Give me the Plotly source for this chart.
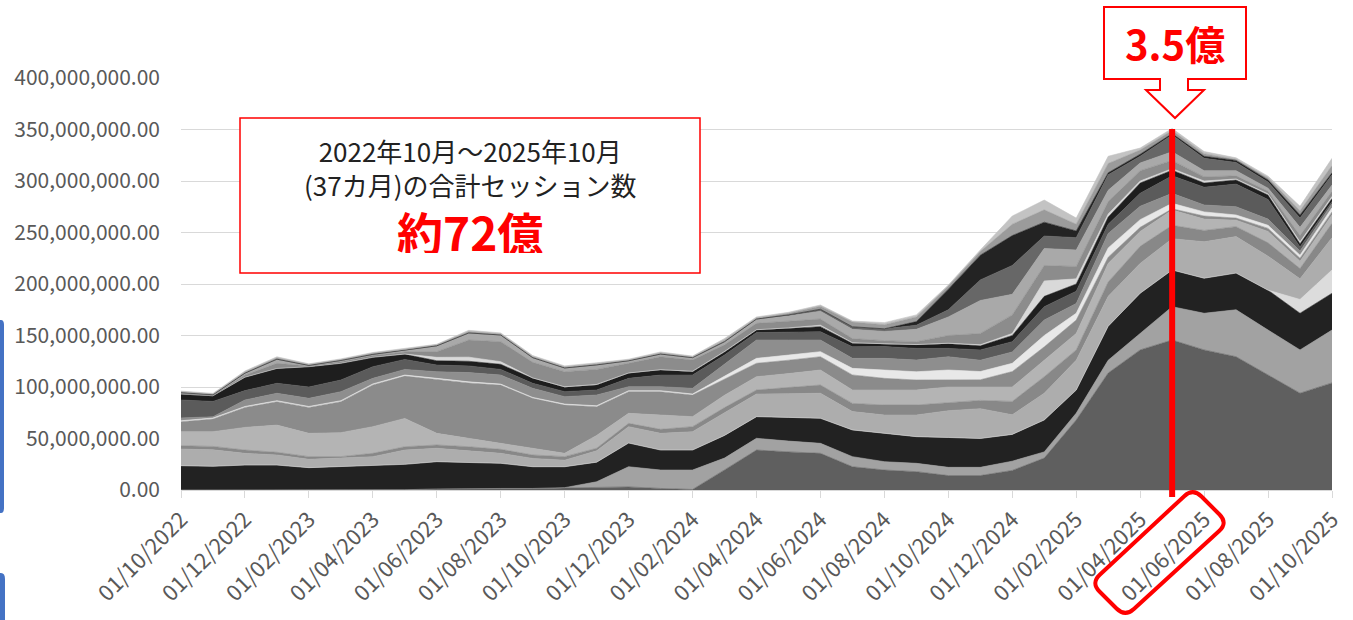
import plotly.graph_objects as go

# ---------------- data (values in millions of sessions) ----------------
UNIT = 1_000_000

months = [
    "01/10/2022", "01/11/2022", "01/12/2022", "01/01/2023", "01/02/2023", "01/03/2023",
    "01/04/2023", "01/05/2023", "01/06/2023", "01/07/2023", "01/08/2023", "01/09/2023",
    "01/10/2023", "01/11/2023", "01/12/2023", "01/01/2024", "01/02/2024", "01/03/2024",
    "01/04/2024", "01/05/2024", "01/06/2024", "01/07/2024", "01/08/2024", "01/09/2024",
    "01/10/2024", "01/11/2024", "01/12/2024", "01/01/2025", "01/02/2025", "01/03/2025",
    "01/04/2025", "01/05/2025", "01/06/2025", "01/07/2025", "01/08/2025", "01/09/2025",
    "01/10/2025",
]
tick_labels = [
    "01/10/2022", "01/12/2022", "01/02/2023", "01/04/2023", "01/06/2023", "01/08/2023",
    "01/10/2023", "01/12/2023", "01/02/2024", "01/04/2024", "01/06/2024", "01/08/2024",
    "01/10/2024", "01/12/2024", "01/02/2025", "01/04/2025", "01/06/2025", "01/08/2025",
    "01/10/2025",
]
peak_month = "01/05/2025"

# cumulative level (top edge) of each stacked layer
lvl_a = [0, 0, 0, 0, 0, 0, 0, 0.3, 1, 1.5, 1.5, 1.5, 2, 2, 3, 1.5, 0.5, 19.5, 38.8, 37, 35.6, 22.6, 19.4, 17.8, 14, 14, 19, 31, 68, 113.6, 136, 145.6, 136, 129.4, 111.6, 94, 104]
lvl_b = [0, 0, 0, 0, 0, 0, 0, 0.3, 1, 1.5, 1.5, 1.5, 2.3, 8, 22.6, 19.4, 19.4, 31, 50.2, 47.5, 45.3, 32.4, 27.5, 25.9, 22, 22, 28, 37, 74.6, 126, 152.4, 178, 171.6, 175, 155.3, 136, 155.3]
lvl_c = [23.6, 23, 24.2, 24.2, 21.7, 23, 24.2, 24.9, 27.5, 27, 25.9, 22.6, 22.6, 27, 45.6, 38.8, 38.8, 53, 71.2, 70.5, 69.6, 58.3, 55, 51.8, 51, 50, 54, 68, 97, 159, 191, 213.6, 205.6, 210.6, 194, 171.6, 191]
lvl_c2 = [23.6, 23, 24.2, 24.2, 21.7, 23, 24.2, 24.9, 27.5, 27, 25.9, 22.6, 22.6, 27, 45.6, 38.8, 38.8, 53, 71.2, 70.5, 69.6, 58.3, 55, 51.8, 51, 50, 54, 68, 97, 159, 191, 213.6, 205.6, 210.6, 194, 185, 213.6]
lvl_d = [39.8, 39, 35.6, 34, 29.8, 31, 32.4, 38.8, 40.5, 38, 35.6, 30.7, 29, 38, 61.5, 55, 56.6, 75, 93.2, 93.5, 93.9, 76.1, 72.8, 72.8, 77, 79, 73, 94, 126, 188, 220, 244, 241, 246, 227, 205, 245]
lvl_e = [43, 42.3, 38.8, 36.6, 32.4, 32.4, 35.6, 42, 43.7, 42, 39.5, 34, 32.4, 40.5, 64.7, 58.9, 61.5, 80, 97.1, 99.5, 101.9, 84.1, 82.5, 82.5, 85, 87, 86, 110, 136, 202, 236.6, 257, 252, 255.7, 240, 215, 259]
lvl_f = [56.6, 56.6, 60.8, 63, 55, 55.7, 61.5, 69.5, 55, 50, 45.3, 40.5, 35.6, 53, 74.4, 72.8, 71.2, 92, 110, 113, 116.5, 97.1, 97.1, 97.1, 100, 100, 100, 126, 152, 220, 251, 271.8, 263, 262, 251, 222, 267]
lvl_g = [66.3, 69, 80.2, 85.8, 80.2, 85.8, 102, 110.6, 107.4, 104, 101.9, 89, 82.5, 80.9, 95.5, 95.5, 92.2, 108, 123, 126, 129.4, 111.7, 108.4, 106.8, 106.8, 107, 115, 139, 165, 226, 255, 273, 266, 264, 254, 225, 270]
lvl_h = [67.2, 69.9, 81.1, 86.7, 81.1, 86.7, 103, 111.6, 108.4, 105, 102.8, 89.9, 83.4, 81.8, 96.4, 96.4, 93.2, 110.5, 127.8, 131, 134.3, 118.1, 116.5, 114.8, 116.5, 115, 123, 150, 171.6, 235, 262.5, 278.3, 270, 267, 257, 228, 274]
lvl_i = [70, 71.1, 87.4, 93.9, 89, 95.5, 108.4, 117.1, 114.8, 114, 111.6, 98.7, 90.6, 92.2, 100.3, 100.3, 98.7, 122, 145.6, 145.6, 145.6, 127.8, 127.8, 126.2, 129.4, 126, 134, 165, 181, 249, 275.5, 288, 276.7, 275, 263, 232, 278]
lvl_j = [87.4, 86, 96.5, 103.6, 100, 106.8, 119.7, 126.8, 121.3, 120.5, 117.1, 103.6, 95.5, 97.1, 108.4, 111.6, 111.6, 131, 152.8, 153.3, 153.7, 139, 139.2, 137.5, 137.5, 136, 144, 178, 193, 258, 288, 305, 294, 297, 282, 236, 280]
lvl_k = [93.2, 91.5, 109.5, 118, 119.7, 123, 128.8, 131.7, 125.5, 125, 122, 108.4, 99.7, 102, 113.3, 116.5, 114.9, 134, 155.3, 157, 158.6, 142.5, 141.7, 140.8, 142, 140, 150, 188, 200, 265, 298, 310.5, 298, 301, 286.4, 239, 283]
lvl_l = [93.2, 91.5, 109.5, 118, 119.7, 123, 128.8, 132, 128.8, 129, 124.6, 108.8, 100.2, 102.5, 113.6, 116.8, 115.3, 134.5, 155.6, 157.4, 160, 143, 142, 141.2, 142.5, 141, 152, 203, 205, 268, 300, 312, 300, 302, 287.5, 241, 285]
lvl_m = [93.2, 91.5, 111.5, 123, 120.3, 124.5, 130.5, 134, 134.3, 145.6, 144, 124, 114.9, 117.1, 123, 129.4, 126.2, 141, 161.8, 164, 166, 147, 145, 144, 150, 152, 170, 218, 217, 280, 310, 320, 304, 305, 290, 247, 290]
lvl_n = [94.5, 92.5, 113.5, 127, 121, 125.8, 131.7, 135.5, 140, 152.5, 150.5, 128.5, 118.5, 121.5, 125.5, 132, 128.5, 144, 166, 169, 173.5, 156, 154, 156, 168, 184, 190, 234.5, 233, 291, 317.5, 328.4, 310, 310, 293, 255, 296]
lvl_o = [94.5, 92.5, 113.5, 127, 121, 125.8, 131.7, 135.5, 140, 152.5, 150.5, 128.5, 118.5, 121.5, 125.5, 132, 128.5, 144, 166, 170, 175.5, 158.5, 156.5, 160, 175, 204, 218, 246.6, 245, 306, 324, 344.7, 322, 318, 299, 264, 306]
lvl_p = [94.5, 92.5, 113.5, 127, 121, 125.8, 131.7, 135.5, 140, 152.5, 150.5, 128.5, 118.5, 121.5, 125.5, 132, 128.5, 144, 166, 170, 175.5, 158.5, 156.5, 163.5, 195, 228, 247, 260, 251.5, 308, 326, 346, 324, 320, 301, 267, 308]
lvl_q = [95.3, 93.2, 114.5, 128.3, 121.8, 126.6, 132.8, 136.5, 141, 153.8, 151.5, 129.5, 119.5, 122.5, 126.3, 133, 129.3, 145.5, 167, 171.5, 178.5, 163, 160.5, 168, 198, 231.5, 258, 272, 258, 317, 330, 349, 326.5, 321, 303, 271, 315]
lvl_r = [96, 93.8, 115.5, 129.3, 122.5, 127.3, 133.5, 137.5, 141.5, 155, 152.5, 130.5, 120.5, 123.5, 127, 134, 130, 147, 168, 172.5, 179.6, 164, 162.5, 170, 199, 233, 266, 281.5, 264, 324, 332, 351, 328.6, 322.5, 304.7, 275.5, 322]

layers = [
    (lvl_a, "#5f5f5f"), (lvl_b, "#a2a2a2"), (lvl_c, "#222222"), (lvl_c2, "#dcdcdc"),
    (lvl_d, "#adadad"), (lvl_e, "#888888"), (lvl_f, "#b4b4b4"), (lvl_g, "#8b8b8b"),
    (lvl_h, "#e8e8e8"), (lvl_i, "#8e8e8e"), (lvl_j, "#5b5b5b"), (lvl_k, "#1e1e1e"),
    (lvl_l, "#d9d9d9"), (lvl_m, "#8c8c8c"), (lvl_n, "#a9a9a9"), (lvl_o, "#676767"),
    (lvl_p, "#232323"), (lvl_q, "#9b9b9b"), (lvl_r, "#c3c3c3"),
]

# ---------------- layout geometry ----------------
W, H = 1353, 620
ML, MR, MT, MB = 181, 21, 78, 130
PW, PH = W - ML - MR, H - MT - MB


def fx(x):
    return (x - ML) / PW


def fy(y):
    return (H - MB - y) / PH


def path_paper(points, closed=True):
    s = "M %.5f,%.5f" % (fx(points[0][0]), fy(points[0][1]))
    for x, y in points[1:]:
        s += " L %.5f,%.5f" % (fx(x), fy(y))
    return s + (" Z" if closed else "")


def rounded_path(points, r):
    n = len(points)
    parts = []
    for k in range(n):
        x0, y0 = points[k - 1]
        x1, y1 = points[k]
        x2, y2 = points[(k + 1) % n]
        d1 = ((x0 - x1) ** 2 + (y0 - y1) ** 2) ** 0.5
        d2 = ((x2 - x1) ** 2 + (y2 - y1) ** 2) ** 0.5
        a = (x1 + (x0 - x1) * r / d1, y1 + (y0 - y1) * r / d1)
        b = (x1 + (x2 - x1) * r / d2, y1 + (y2 - y1) * r / d2)
        parts.append((a, (x1, y1), b))
    s = "M %.5f,%.5f" % (fx(parts[0][0][0]), fy(parts[0][0][1]))
    for idx, (a, c, b) in enumerate(parts):
        if idx > 0:
            s += " L %.5f,%.5f" % (fx(a[0]), fy(a[1]))
        s += " Q %.5f,%.5f %.5f,%.5f" % (fx(c[0]), fy(c[1]), fx(b[0]), fy(b[1]))
    return s + " Z"


FONT = "Noto Sans CJK JP"
fig = go.Figure()

for idx, (vals, col) in enumerate(layers):
    fig.add_trace(go.Scatter(
        x=months, y=[v * UNIT for v in vals], mode="lines",
        line=dict(width=0.6, color=col),
        fill="tozeroy" if idx == 0 else "tonexty", fillcolor=col,
        hoverinfo="skip", showlegend=False,
    ))

shapes = [
    # summary box
    dict(type="rect", xref="paper", yref="paper", x0=fx(240), x1=fx(700), y0=fy(273), y1=fy(118),
         line=dict(color="#ff0000", width=1.5), fillcolor="white", layer="above"),
    # callout above the peak
    dict(type="path", xref="paper", yref="paper",
         path=path_paper([(1104, 7), (1246, 7), (1246, 79), (1188, 79), (1188, 90), (1204, 90),
                          (1175, 118), (1146, 90), (1160, 90), (1160, 79), (1104, 79)]),
         line=dict(color="#ff0000", width=2), fillcolor="white", layer="above"),
    # red vertical marker at the peak month
    dict(type="line", xref="x", yref="paper", x0=peak_month, x1=peak_month,
         y0=fy(497), y1=fy(129), line=dict(color="#ff0000", width=6), layer="above"),
    # rounded box around the 01/06/2025 tick label
    dict(type="path", xref="paper", yref="paper",
         path=rounded_path([(1193, 488), (1228, 523), (1125, 617), (1091, 583)], 12),
         line=dict(color="#ff0000", width=4), fillcolor="rgba(0,0,0,0)", layer="above"),
    # blue UI edges at far left
    dict(type="path", xref="paper", yref="paper",
         path="M %.5f,%.5f L %.5f,%.5f Q %.5f,%.5f %.5f,%.5f L %.5f,%.5f Q %.5f,%.5f %.5f,%.5f L %.5f,%.5f Z" % (
             fx(0), fy(320), fx(1), fy(320), fx(4), fy(320), fx(4), fy(325),
             fx(4), fy(508), fx(4), fy(513), fx(1), fy(513), fx(0), fy(513)),
         line=dict(width=0), fillcolor="#4472c4", layer="above"),
    dict(type="path", xref="paper", yref="paper",
         path="M %.5f,%.5f L %.5f,%.5f Q %.5f,%.5f %.5f,%.5f L %.5f,%.5f L %.5f,%.5f Z" % (
             fx(0), fy(573), fx(1), fy(573), fx(5), fy(573), fx(5), fy(579),
             fx(5), fy(625), fx(0), fy(625)),
         line=dict(width=0), fillcolor="#4472c4", layer="above"),
]

annotations = [
    dict(xref="paper", yref="paper", x=fx(470), y=fy(167),
         text="2022年10月～2025年10月<br>(37カ月)の合計セッション数",
         showarrow=False, xanchor="center", yanchor="middle", align="center",
         font=dict(family=FONT, size=26, color="#222222")),
    dict(xref="paper", yref="paper", x=fx(470), y=fy(231), text="<b>約72億</b>",
         showarrow=False, xanchor="center", yanchor="middle", height=44,
         font=dict(family=FONT, size=46, color="#ff0000")),
    dict(xref="paper", yref="paper", x=fx(1175), y=fy(43), text="<b>3.5億</b>",
         showarrow=False, xanchor="center", yanchor="middle",
         font=dict(family=FONT, size=40, color="#ff0000")),
]

fig.update_layout(
    width=W, height=H,
    margin=dict(l=ML, r=MR, t=MT, b=MB, pad=0, autoexpand=False),
    paper_bgcolor="white", plot_bgcolor="white",
    showlegend=False,
    shapes=shapes, annotations=annotations,
    xaxis=dict(
        type="category", range=[0, len(months) - 1], automargin=False,
        tickmode="array", tickvals=tick_labels, ticktext=tick_labels,
        tickangle=-45, ticks="outside", ticklen=7, tickcolor="#d9d9d9", tickwidth=1,
        showline=True, linecolor="#d9d9d9", linewidth=1, showgrid=False, zeroline=False,
        tickfont=dict(family=FONT, size=22, color="#595959"),
    ),
    yaxis=dict(
        range=[0, 400 * UNIT], dtick=50 * UNIT, tickformat=",.2f", automargin=False,
        showgrid=True, gridcolor="#d9d9d9", gridwidth=1, zeroline=False,
        showline=False, ticks="", ticklabelstandoff=20,
        tickfont=dict(family=FONT, size=21, color="#595959"),
    ),
)

fig.write_html(
    "out.html",
    config={"displayModeBar": False},
    post_script="document.body.style.margin='0';document.body.style.overflow='hidden';",
)
